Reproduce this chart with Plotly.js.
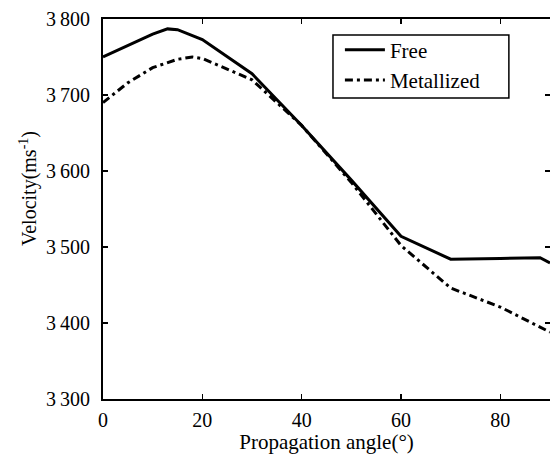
<!DOCTYPE html>
<html><head><meta charset="utf-8">
<script src="https://cdn.plot.ly/plotly-3.0.1.min.js"></script>
<style>body{margin:0;background:#fff}#c{width:550px;height:454px}</style>
</head><body><div id="c"></div>
<script>
const angleFree = [0, 5, 10, 13, 15, 20, 30, 40, 50, 60, 70, 80, 88, 90];
const velFree = [3750, 3765, 3780, 3787, 3786, 3773, 3728, 3660, 3588, 3514, 3484, 3485, 3486, 3479];
const angleMet = [0, 5, 10, 15, 18, 20, 30, 40, 50, 60, 70, 80, 90];
const velMet = [3690, 3716, 3736, 3747, 3750, 3748, 3720, 3660, 3585, 3502, 3446, 3421, 3388];
const xTicks = [0, 20, 40, 60, 80];
const yTicks = [3300, 3400, 3500, 3600, 3700, 3800];
const yTickText = ["3\u2009300", "3\u2009400", "3\u2009500", "3\u2009600", "3\u2009700", "3\u2009800"];
const xTitle = "Propagation angle(\u00b0)";
const yTitle = "Velocity(ms<sup>-1</sup>)";

function f(size) { return {family: "Liberation Serif", size: size, color: "#000"}; }
Plotly.newPlot("c", [
  {x: angleFree, y: velFree, name: "Free", mode: "lines", line: {color: "#000", width: 3}},
  {x: angleMet, y: velMet, name: "Metallized", mode: "lines", line: {color: "#000", width: 3, dash: "8px,4px,3px,4px"}}
], {
  width: 550, height: 454,
  margin: {l: 103, r: 0, t: 19, b: 55},
  paper_bgcolor: "#fff", plot_bgcolor: "#fff",
  font: f(19),
  showlegend: true,
  legend: {x: 0.53, y: 0.972, xanchor: "left", yanchor: "top", borderwidth: 0,
           bgcolor: "rgba(0,0,0,0)", font: f(21), itemwidth: 40, tracegroupgap: 0},
  shapes: [{type: "rect", xref: "paper", yref: "paper", x0: 0.5145, x1: 0.908, y0: 0.792, y1: 0.958,
            line: {color: "#000", width: 1.5}, fillcolor: "rgba(0,0,0,0)", layer: "above"}],
  annotations: [{text: yTitle, xref: "paper", yref: "paper", x: -0.168, y: 0.555, textangle: -90,
                 showarrow: false, xanchor: "center", yanchor: "middle", font: f(20)}],
  xaxis: {range: [0, 90], tickvals: xTicks, ticktext: xTicks.map(String), ticks: "inside", ticklen: 5,
          tickwidth: 1.5, tickcolor: "#000", showline: true, linecolor: "#000", linewidth: 2, mirror: "ticks",
          showgrid: false, zeroline: false, tickfont: f(20), ticklabelstandoff: 2,
          title: {text: xTitle, font: f(21), standoff: 7}},
  yaxis: {range: [3300, 3800], tickvals: yTicks, ticktext: yTickText, ticks: "inside", ticklen: 5,
          tickwidth: 1.5, tickcolor: "#000", showline: true, linecolor: "#000", linewidth: 2, mirror: "ticks",
          showgrid: false, zeroline: false, tickfont: f(20), ticklabelstandoff: 7}
}, {staticPlot: true});
</script></body></html>
